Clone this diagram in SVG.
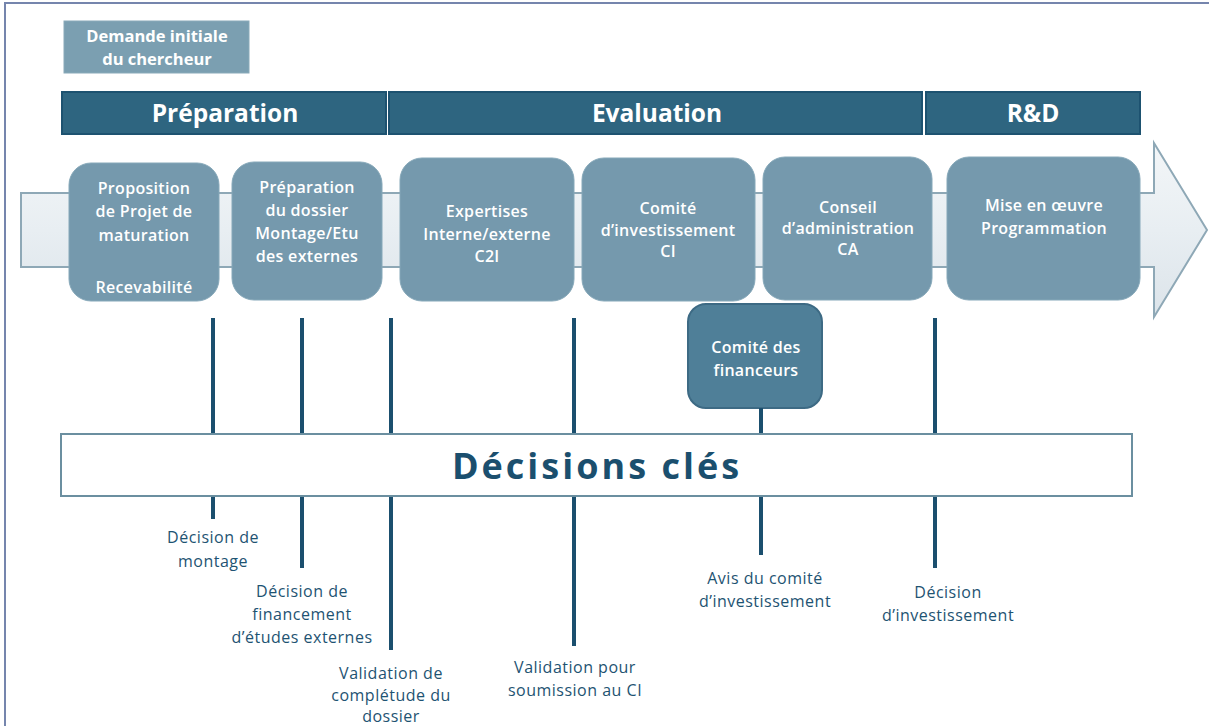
<svg xmlns="http://www.w3.org/2000/svg" width="1209" height="726" viewBox="0 0 1209 726">
<defs>
<linearGradient id="shaft" x1="0" y1="0" x2="0" y2="1">
<stop offset="0" stop-color="#f3f6f8"/><stop offset="0.5" stop-color="#e8eef2"/><stop offset="1" stop-color="#dce4ea"/>
</linearGradient>
<style>
.frame{stroke:#7585ad;stroke-width:2;fill:none}
.hdr{fill:#2e6580;stroke:#1d5270;stroke-width:2}
.hdrt{font-family:"Open Sans","DejaVu Sans",sans-serif;font-weight:bold;font-size:24.5px;fill:#ffffff;text-anchor:middle}
.box{fill:#7599ad;stroke:#86a8b9;stroke-width:1}
.fin{fill:#4f7f98;stroke:#3d6a84;stroke-width:2}
.bt{font-family:"Open Sans","DejaVu Sans",sans-serif;font-size:16px;font-weight:600;letter-spacing:0.3px;fill:#ffffff;text-anchor:middle}
.dem{font-family:"Open Sans","DejaVu Sans",sans-serif;font-size:16.5px;font-weight:bold;fill:#ffffff;text-anchor:middle}
.ln{stroke:#1b4f6e;stroke-width:4;fill:none}
.lbl{font-family:"Open Sans","DejaVu Sans",sans-serif;font-size:16px;letter-spacing:0.5px;fill:#1e5372;text-anchor:middle}
.key{font-family:"Open Sans","DejaVu Sans",sans-serif;font-size:36px;font-weight:bold;fill:#1b4f6e;text-anchor:middle;letter-spacing:3px}
</style>
</defs>
<rect width="1209" height="726" fill="#ffffff"/>
<path class="frame" d="M5 726 V3 H1209"/>

<g id="demande">
<rect x="64" y="21" width="185" height="52" fill="#7b9fb1" stroke="#8aaab9"/>
<text class="dem" x="157" y="42">Demande initiale</text>
<text class="dem" x="157" y="65">du chercheur</text>
</g>

<g id="phases">
<rect class="hdr" x="62" y="92" width="324" height="42"/>
<text class="hdrt" x="225" y="122">Préparation</text>
<rect class="hdr" x="389" y="92" width="533" height="42"/>
<text class="hdrt" x="657" y="122">Evaluation</text>
<rect class="hdr" x="926" y="92" width="214" height="42"/>
<text class="hdrt" x="1033" y="122">R&amp;D</text>
</g>

<g id="arrow">
<path d="M21 193 H1154 V143 L1207 230 L1154 317 V267 H21 Z" fill="url(#shaft)" stroke="#8ea8b6" stroke-width="2"/>
</g>

<g id="n1">
<rect class="box" x="69" y="163" width="150" height="138" rx="22"/>
<text class="bt" x="144" y="194">Proposition</text>
<text class="bt" x="144" y="217">de Projet de</text>
<text class="bt" x="144" y="241">maturation</text>
<text class="bt" x="144" y="293">Recevabilité</text>
</g>
<g id="n2">
<rect class="box" x="232" y="162" width="150" height="138" rx="22"/>
<text class="bt" x="307" y="193">Préparation</text>
<text class="bt" x="307" y="216">du dossier</text>
<text class="bt" x="307" y="239">Montage/Etu</text>
<text class="bt" x="307" y="262">des externes</text>
</g>
<g id="n3">
<rect class="box" x="400" y="158" width="174" height="143" rx="22"/>
<text class="bt" x="487" y="217">Expertises</text>
<text class="bt" x="487" y="240">Interne/externe</text>
<text class="bt" x="487" y="262">C2I</text>
</g>
<g id="n4">
<rect class="box" x="582" y="158" width="173" height="143" rx="22"/>
<text class="bt" x="668" y="214">Comité</text>
<text class="bt" x="668" y="236">d’investissement</text>
<text class="bt" x="668" y="257">CI</text>
</g>
<g id="n5">
<rect class="box" x="763" y="157" width="169" height="143" rx="22"/>
<text class="bt" x="848" y="213">Conseil</text>
<text class="bt" x="848" y="234">d’administration</text>
<text class="bt" x="848" y="255">CA</text>
</g>
<g id="n6">
<rect class="box" x="947" y="157" width="193" height="143" rx="22"/>
<text class="bt" x="1044" y="211">Mise en œuvre</text>
<text class="bt" x="1044" y="234">Programmation</text>
</g>
<g id="financeurs">
<rect class="fin" x="688" y="304" width="134" height="104" rx="18"/>
<text class="bt" x="756" y="353">Comité des</text>
<text class="bt" x="756" y="376">financeurs</text>
</g>

<g id="connectors">
<path class="ln" d="M213 318 V434 M213 496 V519"/>
<path class="ln" d="M302 318 V434 M302 496 V568"/>
<path class="ln" d="M391 318 V434 M391 496 V650"/>
<path class="ln" d="M574 318 V434 M574 496 V646"/>
<path class="ln" d="M761 408 V434 M761 496 V555"/>
<path class="ln" d="M935 318 V434 M935 496 V568"/>
</g>

<g id="decisions">
<rect x="61" y="434" width="1071" height="62" fill="#ffffff" stroke="#6b8fa0" stroke-width="2"/>
<text class="key" x="597" y="479">Décisions clés</text>
</g>

<g id="labels">
<text class="lbl" x="213" y="543">Décision de</text>
<text class="lbl" x="213" y="567">montage</text>
<text class="lbl" x="302" y="597">Décision de</text>
<text class="lbl" x="302" y="620">financement</text>
<text class="lbl" x="302" y="643">d’études externes</text>
<text class="lbl" x="391" y="679">Validation de</text>
<text class="lbl" x="391" y="701">complétude du</text>
<text class="lbl" x="391" y="722">dossier</text>
<text class="lbl" x="575" y="673">Validation pour</text>
<text class="lbl" x="575" y="696">soumission au CI</text>
<text class="lbl" x="765" y="584">Avis du comité</text>
<text class="lbl" x="765" y="607">d’investissement</text>
<text class="lbl" x="948" y="598">Décision</text>
<text class="lbl" x="948" y="621">d’investissement</text>
</g>
</svg>
